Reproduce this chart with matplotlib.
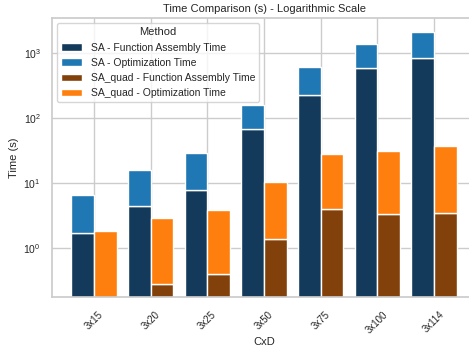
import numpy as np
import matplotlib

matplotlib.use("Agg")
import matplotlib.pyplot as plt
import seaborn as sns

# tempi misurati (s) per configurazione CxD
sizes = ["3x15", "3x20", "3x25", "3x50", "3x75", "3x100", "3x114"]
sa_assembly = [1.72, 4.43, 7.8, 68.4, 228, 588, 838]
sa_optim = [4.96, 11.6, 21.5, 90, 394, 802, 1290]
quad_assembly = [0.10, 0.282, 0.407, 1.37, 3.98, 3.33, 3.53]
quad_optim = [1.75, 2.61, 3.52, 8.99, 23.9, 27.8, 34.0]

sns.set_theme(style="whitegrid")
plt.rcParams["font.family"] = ["Liberation Sans", "DejaVu Sans"]

fig = plt.figure(figsize=(4.69, 3.47), dpi=100)
ax = fig.add_axes([52 / 469, 50 / 347, 424 / 469, 279 / 347])

x = np.arange(len(sizes))
w = 0.4
ax.bar(x - w / 2, sa_assembly, w, color="#133a5a", edgecolor="white", lw=1,
       label="SA - Function Assembly Time")
ax.bar(x - w / 2, sa_optim, w, bottom=sa_assembly, color="#1f77b4", edgecolor="white", lw=1,
       label="SA - Optimization Time")
ax.bar(x + w / 2, quad_assembly, w, color="#82410b", edgecolor="white", lw=1,
       label="SA_quad - Function Assembly Time")
ax.bar(x + w / 2, quad_optim, w, bottom=quad_assembly, color="#ff7f0e", edgecolor="white", lw=1,
       label="SA_quad - Optimization Time")

ax.set_yscale("log")
ax.set_ylim(0.178, 3490)
ax.set_xlim(-0.74, 6.74)
ax.set_xticks(x)
ax.set_xticklabels(sizes, rotation=45, fontsize=7)
ax.tick_params(axis="y", labelsize=7.5, pad=2)
ax.tick_params(axis="x", pad=3)
ax.set_xlabel("CxD", fontsize=8, labelpad=1)
ax.set_ylabel("Time (s)", fontsize=8, labelpad=3)
ax.set_title("Time Comparison (s) - Logarithmic Scale", fontsize=8, pad=4)
ax.legend(title="Method", loc="upper left", fontsize=7.5, title_fontsize=8)

fig.savefig("out.png", dpi=100)
